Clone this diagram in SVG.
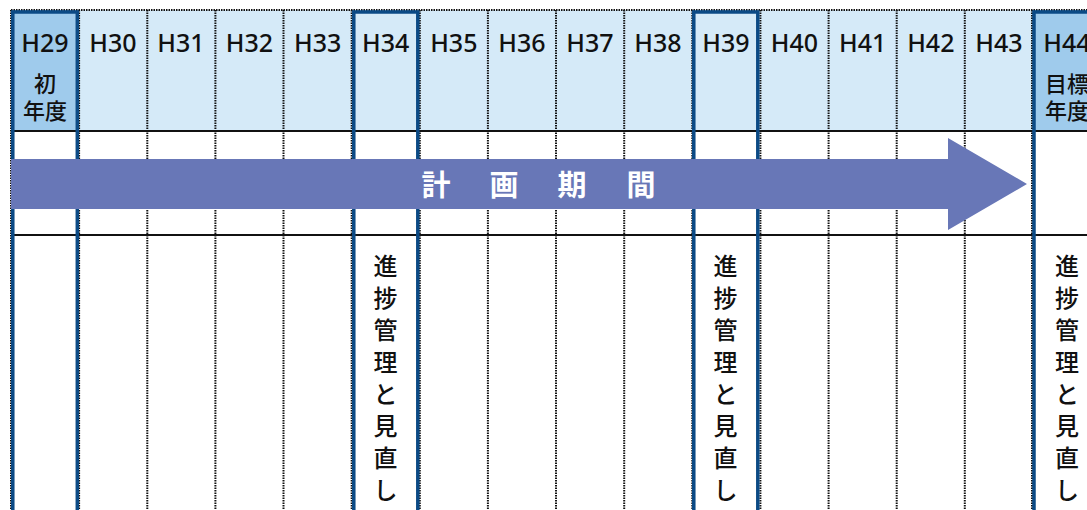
<svg xmlns="http://www.w3.org/2000/svg" width="1087" height="510" viewBox="0 0 1087 510">
<style>
.hd{font-family:"Noto Sans","Noto Sans CJK JP",sans-serif;font-size:25px;font-weight:500;fill:#111;text-anchor:middle;}
.jp{font-family:"Noto Sans CJK JP",sans-serif;font-size:22px;font-weight:500;fill:#111;text-anchor:middle;}
.vt{font-family:"Noto Sans CJK JP",sans-serif;font-size:24px;font-weight:500;fill:#111;text-anchor:middle;}
.ar{font-family:"Noto Sans CJK JP",sans-serif;font-size:29px;font-weight:700;fill:#fff;text-anchor:middle;}
.dot{stroke:#111;stroke-width:2;stroke-dasharray:1.5 1;fill:none;}
.hl{stroke:#111;stroke-width:2;fill:none;}
.bl{stroke:#0B4A85;stroke-width:3.5;fill:none;}
</style>
<rect x="0" y="0" width="1087" height="510" fill="#fff"/>
<g id="header-bg">
<rect x="11" y="10" width="1076" height="121" fill="#D5EAF8"/>
<rect x="11" y="10" width="68" height="121" fill="#9FCBEC"/>
<rect x="1033" y="10" width="54" height="121" fill="#9FCBEC"/>
</g>
<g id="grid">
<line class="dot" x1="11" y1="10" x2="11" y2="510"/>
<line class="dot" x1="79.1" y1="10" x2="79.1" y2="510"/>
<line class="dot" x1="147.3" y1="10" x2="147.3" y2="510"/>
<line class="dot" x1="215.4" y1="10" x2="215.4" y2="510"/>
<line class="dot" x1="283.5" y1="10" x2="283.5" y2="510"/>
<line class="dot" x1="351.7" y1="10" x2="351.7" y2="510"/>
<line class="dot" x1="419.8" y1="10" x2="419.8" y2="510"/>
<line class="dot" x1="487.9" y1="10" x2="487.9" y2="510"/>
<line class="dot" x1="556" y1="10" x2="556" y2="510"/>
<line class="dot" x1="624.2" y1="10" x2="624.2" y2="510"/>
<line class="dot" x1="692.3" y1="10" x2="692.3" y2="510"/>
<line class="dot" x1="760.4" y1="10" x2="760.4" y2="510"/>
<line class="dot" x1="828.6" y1="10" x2="828.6" y2="510"/>
<line class="dot" x1="896.7" y1="10" x2="896.7" y2="510"/>
<line class="dot" x1="964.8" y1="10" x2="964.8" y2="510"/>
<line class="dot" x1="1032" y1="10" x2="1032" y2="510"/>
<line class="dot" x1="11" y1="10" x2="1087" y2="10"/>
<line class="hl" x1="11" y1="131" x2="1087" y2="131"/>
<line class="hl" x1="11" y1="235" x2="1087" y2="235"/>
</g>
<g id="milestones">
<rect class="bl" x="12.8" y="12" width="64.5" height="520"/>
<rect class="bl" x="353.8" y="12" width="64" height="520"/>
<rect class="bl" x="693.8" y="12" width="64" height="520"/>
<rect class="bl" x="1034" y="12" width="70" height="520"/>
</g>
<g id="connectors">
<g id="plan-arrow">
<polygon points="11,159 948,159 948,138 1027,184 948,230 948,209 11,209" fill="#6877B7"/>
<text class="ar" x="436" y="196">計</text>
<text class="ar" x="504" y="196">画</text>
<text class="ar" x="572" y="196">期</text>
<text class="ar" x="641" y="196">間</text>
</g>
</g>
<g id="headers">
<g id="h29"><text class="hd" x="45" y="52">H29</text><text class="jp" x="45" y="92">初</text><text class="jp" x="45" y="119">年度</text></g>
<g id="h30"><text class="hd" x="113" y="52">H30</text></g>
<g id="h31"><text class="hd" x="181" y="52">H31</text></g>
<g id="h32"><text class="hd" x="249.5" y="52">H32</text></g>
<g id="h33"><text class="hd" x="317.6" y="52">H33</text></g>
<g id="h34"><text class="hd" x="385.7" y="52">H34</text></g>
<g id="h35"><text class="hd" x="453.8" y="52">H35</text></g>
<g id="h36"><text class="hd" x="522" y="52">H36</text></g>
<g id="h37"><text class="hd" x="590" y="52">H37</text></g>
<g id="h38"><text class="hd" x="658" y="52">H38</text></g>
<g id="h39"><text class="hd" x="726" y="52">H39</text></g>
<g id="h40"><text class="hd" x="794.5" y="52">H40</text></g>
<g id="h41"><text class="hd" x="862.6" y="52">H41</text></g>
<g id="h42"><text class="hd" x="930.8" y="52">H42</text></g>
<g id="h43"><text class="hd" x="998.9" y="52">H43</text></g>
<g id="h44"><text class="hd" x="1067" y="52">H44</text><text class="jp" x="1067" y="92">目標</text><text class="jp" x="1067" y="119">年度</text></g>
</g>
<g id="review-h34">
<text class="vt" x="385.5" y="275">進</text><text class="vt" x="385.5" y="307">捗</text><text class="vt" x="385.5" y="339">管</text><text class="vt" x="385.5" y="371">理</text><text class="vt" x="385.5" y="403">と</text><text class="vt" x="385.5" y="435">見</text><text class="vt" x="385.5" y="467">直</text><text class="vt" x="385.5" y="499">し</text>
</g>
<g id="review-h39">
<text class="vt" x="725.5" y="275">進</text><text class="vt" x="725.5" y="307">捗</text><text class="vt" x="725.5" y="339">管</text><text class="vt" x="725.5" y="371">理</text><text class="vt" x="725.5" y="403">と</text><text class="vt" x="725.5" y="435">見</text><text class="vt" x="725.5" y="467">直</text><text class="vt" x="725.5" y="499">し</text>
</g>
<g id="review-h44">
<text class="vt" x="1067" y="275">進</text><text class="vt" x="1067" y="307">捗</text><text class="vt" x="1067" y="339">管</text><text class="vt" x="1067" y="371">理</text><text class="vt" x="1067" y="403">と</text><text class="vt" x="1067" y="435">見</text><text class="vt" x="1067" y="467">直</text><text class="vt" x="1067" y="499">し</text>
</g>
</svg>
